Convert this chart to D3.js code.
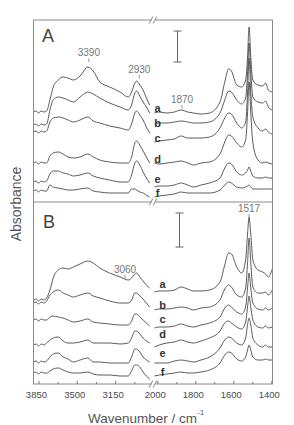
<!DOCTYPE html>
<html>
<head>
<meta charset="utf-8">
<script src="https://cdnjs.cloudflare.com/ajax/libs/d3/7.8.5/d3.min.js"></script>
<style>
  html, body { margin: 0; padding: 0; background: #fff; }
  svg { display: block; font-family: "Liberation Sans", Arial, sans-serif; }
</style>
</head>
<body>
<div id="chart"></div>
<script>
// wavenumber grids (cm-1) for the two halves of the broken axis
var wnLeft = [3895, 3870, 3850, 3825, 3800, 3775, 3745, 3715, 3670, 3625, 3580, 3530, 3470,
  3400, 3350, 3290, 3200, 3105, 3030, 3000, 2970, 2955, 2925, 2895, 2865, 2835]
var wnRight = [2015, 1990, 1950, 1910, 1875, 1840, 1810, 1770, 1725, 1670, 1645, 1625, 1610,
  1582, 1556, 1535, 1525, 1517, 1508, 1497, 1470, 1445, 1430, 1416, 1395]

var seriesNames = ["a", "b", "c", "d", "e", "f"]

// panel A, spectra a..f (offset absorbance)
var panelALeft = [
  [0.90, 0.91, 0.89, 0.91, 0.90, 0.91, 1.02, 1.15, 1.22, 1.25, 1.24, 1.22, 1.26, 1.35, 1.31, 1.20, 1.15, 1.10, 1.05, 1.10, 1.19, 1.21, 1.17, 1.12, 1.04, 0.97],
  [0.77, 0.78, 0.76, 0.78, 0.77, 0.78, 0.92, 1.02, 1.05, 1.04, 1.02, 1.00, 1.05, 1.10, 1.08, 1.04, 0.99, 0.95, 0.92, 0.97, 1.09, 1.11, 1.06, 1.00, 0.95, 0.89],
  [0.70, 0.71, 0.69, 0.71, 0.70, 0.71, 0.80, 0.84, 0.85, 0.84, 0.82, 0.80, 0.82, 0.85, 0.81, 0.79, 0.76, 0.74, 0.72, 0.78, 0.89, 0.91, 0.87, 0.82, 0.75, 0.69],
  [0.39, 0.40, 0.38, 0.40, 0.39, 0.39, 0.46, 0.49, 0.50, 0.48, 0.45, 0.44, 0.45, 0.48, 0.45, 0.42, 0.40, 0.39, 0.39, 0.45, 0.59, 0.61, 0.57, 0.51, 0.45, 0.39],
  [0.20, 0.21, 0.19, 0.21, 0.20, 0.21, 0.28, 0.31, 0.31, 0.29, 0.28, 0.26, 0.27, 0.29, 0.26, 0.24, 0.22, 0.20, 0.20, 0.27, 0.39, 0.41, 0.37, 0.30, 0.24, 0.19],
  [0.11, 0.12, 0.10, 0.12, 0.11, 0.11, 0.17, 0.15, 0.14, 0.13, 0.12, 0.12, 0.13, 0.14, 0.11, 0.10, 0.09, 0.09, 0.09, 0.13, 0.13, 0.12, 0.10, 0.09, 0.07, 0.05]
]
var panelARight = [
  [0.89, 0.90, 0.89, 0.90, 0.92, 0.90, 0.89, 0.88, 0.89, 1.00, 1.20, 1.33, 1.31, 1.17, 1.15, 1.22, 1.45, 1.75, 1.45, 1.22, 1.17, 1.16, 1.19, 1.12, 1.10],
  [0.78, 0.79, 0.79, 0.80, 0.81, 0.80, 0.79, 0.79, 0.80, 0.89, 1.02, 1.11, 1.10, 1.02, 0.98, 1.04, 1.29, 1.59, 1.29, 1.05, 1.00, 0.99, 1.01, 0.95, 0.92],
  [0.60, 0.61, 0.62, 0.63, 0.66, 0.64, 0.64, 0.64, 0.65, 0.74, 0.84, 0.89, 0.88, 0.79, 0.74, 0.80, 1.09, 1.44, 1.09, 0.85, 0.74, 0.71, 0.73, 0.70, 0.68],
  [0.39, 0.38, 0.39, 0.40, 0.41, 0.39, 0.37, 0.39, 0.40, 0.48, 0.60, 0.67, 0.66, 0.59, 0.55, 0.62, 0.89, 1.20, 0.89, 0.59, 0.42, 0.39, 0.40, 0.39, 0.38],
  [0.15, 0.16, 0.16, 0.17, 0.19, 0.17, 0.15, 0.17, 0.19, 0.24, 0.34, 0.39, 0.38, 0.30, 0.27, 0.29, 0.32, 0.35, 0.31, 0.26, 0.24, 0.24, 0.25, 0.24, 0.24],
  [0.05, 0.06, 0.07, 0.08, 0.10, 0.09, 0.09, 0.09, 0.09, 0.12, 0.17, 0.20, 0.19, 0.15, 0.14, 0.15, 0.16, 0.17, 0.15, 0.13, 0.13, 0.13, 0.13, 0.13, 0.13]
]

// panel B, spectra a..f
var panelBLeft = [
  [0.84, 0.85, 0.83, 0.85, 0.84, 0.86, 0.94, 1.06, 1.14, 1.16, 1.15, 1.17, 1.20, 1.23, 1.21, 1.16, 1.11, 1.07, 1.04, 1.06, 1.10, 1.11, 1.07, 1.03, 0.99, 0.96],
  [0.81, 0.82, 0.80, 0.82, 0.81, 0.83, 0.89, 0.92, 0.94, 0.91, 0.89, 0.87, 0.89, 0.91, 0.88, 0.86, 0.83, 0.81, 0.81, 0.84, 0.91, 0.91, 0.88, 0.85, 0.81, 0.77],
  [0.64, 0.65, 0.63, 0.65, 0.64, 0.64, 0.67, 0.68, 0.67, 0.66, 0.64, 0.62, 0.63, 0.65, 0.62, 0.61, 0.60, 0.59, 0.59, 0.63, 0.70, 0.70, 0.67, 0.64, 0.61, 0.58],
  [0.39, 0.40, 0.38, 0.40, 0.39, 0.41, 0.44, 0.46, 0.47, 0.43, 0.41, 0.41, 0.42, 0.44, 0.41, 0.41, 0.41, 0.40, 0.41, 0.46, 0.53, 0.53, 0.50, 0.46, 0.43, 0.41],
  [0.22, 0.23, 0.21, 0.23, 0.22, 0.23, 0.27, 0.30, 0.31, 0.27, 0.25, 0.22, 0.24, 0.26, 0.22, 0.22, 0.21, 0.21, 0.21, 0.27, 0.35, 0.35, 0.32, 0.27, 0.24, 0.22],
  [0.11, 0.12, 0.10, 0.12, 0.11, 0.11, 0.13, 0.15, 0.16, 0.14, 0.12, 0.11, 0.11, 0.12, 0.10, 0.09, 0.09, 0.08, 0.08, 0.13, 0.19, 0.19, 0.17, 0.12, 0.08, 0.05]
]
var panelBRight = [
  [0.92, 0.93, 0.93, 0.94, 0.97, 0.95, 0.93, 0.93, 0.94, 1.02, 1.19, 1.31, 1.30, 1.17, 1.11, 1.24, 1.50, 1.67, 1.50, 1.24, 1.14, 1.12, 1.10, 1.07, 1.15],
  [0.74, 0.75, 0.75, 0.76, 0.77, 0.76, 0.74, 0.76, 0.77, 0.84, 0.95, 0.99, 0.97, 0.89, 0.87, 0.96, 1.21, 1.46, 1.21, 0.97, 0.91, 0.91, 0.92, 0.89, 0.94],
  [0.56, 0.57, 0.57, 0.58, 0.60, 0.58, 0.57, 0.59, 0.61, 0.67, 0.76, 0.79, 0.77, 0.72, 0.70, 0.77, 0.96, 1.11, 0.96, 0.81, 0.75, 0.74, 0.76, 0.74, 0.76],
  [0.37, 0.39, 0.41, 0.42, 0.44, 0.42, 0.41, 0.43, 0.46, 0.53, 0.61, 0.63, 0.61, 0.57, 0.55, 0.62, 0.77, 0.88, 0.77, 0.64, 0.57, 0.56, 0.58, 0.56, 0.57],
  [0.21, 0.21, 0.21, 0.23, 0.24, 0.23, 0.22, 0.24, 0.27, 0.36, 0.44, 0.47, 0.46, 0.41, 0.39, 0.46, 0.59, 0.66, 0.59, 0.46, 0.39, 0.37, 0.39, 0.37, 0.37],
  [0.08, 0.09, 0.10, 0.11, 0.12, 0.11, 0.11, 0.12, 0.14, 0.21, 0.29, 0.32, 0.31, 0.25, 0.23, 0.27, 0.34, 0.39, 0.34, 0.27, 0.24, 0.24, 0.25, 0.24, 0.24]
]

// axis ticks
var majorLeft = [3850, 3500, 3150]
var minorLeft = [3675, 3325, 2975]
var majorRight = [2000, 1800, 1600, 1400]
var minorRight = [1900, 1700, 1500]

// peak annotations
var peaksA = [3390, 2930, 1870]
var peaksB = [3060, 1517]

// absorbance scale bars [from, to]
var barA = [1.40, 1.71]
var barB = [1.37, 1.71]

var W = 294, H = 425
var fLeft = 33.5, fRight = 272.5, fTop = 20, fMid = 202, fBottom = 384
var brk = 153.5

var svg = d3.select("#chart").append("svg")
  .attr("width", W)
  .attr("height", H)

var xL = d3.scaleLinear().domain([3895, 2800]).range([fLeft, brk])
var xR = d3.scaleLinear().domain([2020, 1395]).range([brk, 272.25])
var yA = d3.scaleLinear().domain([0, 1.82]).range([fMid, fTop])
var yB = d3.scaleLinear().domain([0, 1.82]).range([fBottom, fMid])

function drawPanel(y, leftData, rightData, g) {
  var lineL = d3.line().x(function (d) { return xL(d[0]) }).y(function (d) { return y(d[1]) }).curve(d3.curveMonotoneX)
  var lineR = d3.line().x(function (d) { return xR(d[0]) }).y(function (d) { return y(d[1]) }).curve(d3.curveMonotoneX)
  leftData.forEach(function (vals) {
    g.append("path")
      .attr("d", lineL(wnLeft.map(function (w, i) { return [w, vals[i]] })))
      .attr("fill", "none").attr("stroke", "#4a4a4a").attr("stroke-width", 0.9)
  })
  rightData.forEach(function (vals) {
    g.append("path")
      .attr("d", lineR(wnRight.map(function (w, i) { return [w, vals[i]] })))
      .attr("fill", "none").attr("stroke", "#4a4a4a").attr("stroke-width", 0.9)
  })
}

drawPanel(yA, panelALeft, panelARight, svg.append("g"))
drawPanel(yB, panelBLeft, panelBRight, svg.append("g"))

// frame
var frame = svg.append("g").attr("stroke", "#8a8a8a").attr("stroke-width", 1).attr("fill", "none")
frame.append("rect").attr("x", fLeft).attr("y", fTop).attr("width", fRight - fLeft).attr("height", fBottom - fTop)
frame.append("line").attr("x1", fLeft).attr("x2", fRight).attr("y1", fMid).attr("y2", fMid)

// axis break marks
;[fTop, fMid, fBottom].forEach(function (yy) {
  svg.append("rect").attr("x", brk - 2).attr("y", yy - 1.5).attr("width", 4).attr("height", 3).attr("fill", "#fff")
  ;[brk - 2.5, brk + 1.5].forEach(function (xx) {
    svg.append("line").attr("x1", xx - 1.8).attr("y1", yy + 3.5).attr("x2", xx + 1.8).attr("y2", yy - 3.5)
      .attr("stroke", "#777").attr("stroke-width", 0.9)
  })
})

// bottom axes
function axis(scale, major, minor) {
  var gMaj = svg.append("g").attr("transform", "translate(0," + fBottom + ")")
    .call(d3.axisBottom(scale).tickValues(major).tickSizeInner(-3).tickSizeOuter(0).tickPadding(7.5).tickFormat(d3.format("d")))
  gMaj.select(".domain").remove()
  gMaj.selectAll("line").attr("stroke", "#777")
  gMaj.selectAll("text").attr("fill", "#4a4a4a").attr("font-size", "9.5px")
    .attr("font-family", "Liberation Sans, Arial, sans-serif").attr("dx", -2.5)
  var gMin = svg.append("g").attr("transform", "translate(0," + fBottom + ")")
    .call(d3.axisBottom(scale).tickValues(minor).tickSizeInner(-2).tickSizeOuter(0).tickFormat(""))
  gMin.select(".domain").remove()
  gMin.selectAll("line").attr("stroke", "#777")
}
axis(xL, majorLeft, minorLeft)
axis(xR, majorRight, minorRight)

// axis titles
svg.append("text")
  .attr("transform", "translate(21,204) rotate(-90)")
  .attr("text-anchor", "middle")
  .attr("font-size", "14px").attr("fill", "#555")
  .text("Absorbance")

var xt = svg.append("text").attr("x", 88).attr("y", 422.5).attr("font-size", "13.5px").attr("fill", "#555")
xt.append("tspan").text("Wavenumber / cm")
xt.append("tspan").attr("dy", -8).attr("font-size", "8px").text("-1")

// panel letters
svg.append("text").attr("x", 42).attr("y", 42).attr("font-size", "18px").attr("fill", "#444").text("A")
svg.append("text").attr("x", 43).attr("y", 228).attr("font-size", "18px").attr("fill", "#444").text("B")

// series labels
function labels(y, rightData, x, off) {
  rightData.forEach(function (vals, i) {
    svg.append("text")
      .attr("x", x).attr("y", y(vals[0]) - off[i])
      .attr("text-anchor", "middle")
      .attr("font-size", "11px").attr("font-weight", "bold").attr("fill", "#333")
      .text(seriesNames[i])
  })
}
labels(yA, panelARight, 157.5, [1.5, -2.5, 0.5, 0, 4.5, 0])
labels(yB, panelBRight, 162.5, [4.5, 1.5, 5, 9, 6, 0.5])

// peak annotations
function annotate(wn, scale, baseline) {
  var x = scale(wn)
  svg.append("text").attr("x", x).attr("y", baseline).attr("text-anchor", "middle")
    .attr("font-size", "10px").attr("fill", "#777").text(wn)
  svg.append("line").attr("x1", x).attr("x2", x).attr("y1", baseline + 2.5).attr("y2", baseline + 6)
    .attr("stroke", "#777").attr("stroke-width", 0.8)
}
annotate(peaksA[0], xL, 56)
annotate(peaksA[1], xL, 72.5)
annotate(peaksA[2], xR, 102.5)
annotate(peaksB[0], xL, 272.5)
annotate(peaksB[1], xR, 211.5)

// scale bars
function scaleBar(y, bar, x) {
  var g = svg.append("g").attr("stroke", "#666").attr("stroke-width", 1)
  g.append("line").attr("x1", x).attr("x2", x).attr("y1", y(bar[0])).attr("y2", y(bar[1]))
  g.append("line").attr("x1", x - 4).attr("x2", x + 4).attr("y1", y(bar[0])).attr("y2", y(bar[0]))
  g.append("line").attr("x1", x - 4).attr("x2", x + 4).attr("y1", y(bar[1])).attr("y2", y(bar[1]))
}
scaleBar(yA, barA, 177.5)
scaleBar(yB, barB, 179.5)
</script>
</body>
</html>
